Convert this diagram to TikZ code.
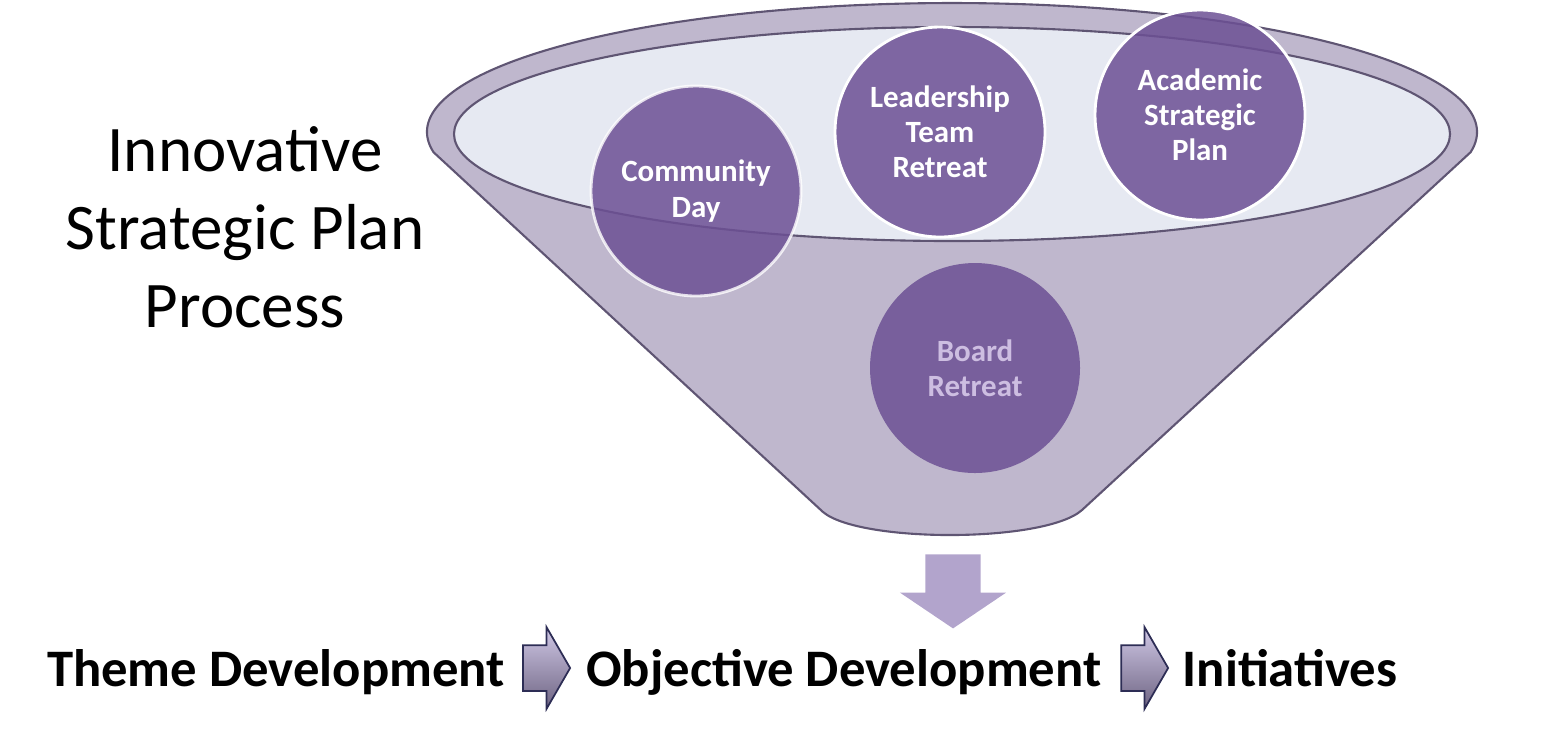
\documentclass[tikz,border=0pt]{standalone}
\usepackage{fontspec}
\setmainfont{Carlito}
\usetikzlibrary{shapes.arrows}

\definecolor{trichter}{RGB}{191,183,205}
\definecolor{rand}{RGB}{95,85,115}
\definecolor{innen}{RGB}{230,233,242}
\definecolor{kreisfarbe}{RGB}{108,80,148}
\definecolor{blass}{RGB}{205,190,225}
\definecolor{abwaerts}{RGB}{178,164,204}
\definecolor{pfeilhell}{RGB}{208,200,230}
\definecolor{pfeildunkel}{RGB}{110,100,130}
\definecolor{pfeilrand}{RGB}{45,45,85}

\begin{document}
\begin{tikzpicture}[x=0.1mm, y=-0.1mm,
    kreis/.style={circle, minimum size=21mm, fill=kreisfarbe, fill opacity=0.85, text opacity=1,
        text=white, align=center, font=\bfseries\fontsize{8.8}{10}\selectfont},
    schritt/.style={anchor=base, font=\bfseries\fontsize{15}{18}\selectfont},
    pfeil/.style={single arrow, draw=pfeilrand, line width=0.5pt, top color=pfeilhell, bottom color=pfeildunkel,
        inner xsep=0pt, inner ysep=2.2mm, minimum height=4.7mm, single arrow head extend=1.8mm, single arrow tip angle=120}]
    \useasboundingbox (0,0) rectangle (1544,746);

    % Trichter
    \filldraw[draw=rand, line width=0.6pt, fill=trichter] (433.5,152.2)
        arc[start angle=171, end angle=369, x radius=525, y radius=129]
        -- (1082,510) .. controls (1045,543) and (860,543) .. (823,512) -- cycle;
    \filldraw[draw=rand, line width=0.6pt, fill=innen] (952,134) ellipse[x radius=498, y radius=107];

    % Kreise
    \node[kreis, draw=white, draw opacity=0.8, line width=0.8pt] (gemeinde) at (696,191) {Community\\Day};
    \node[kreis, draw=white, line width=0.8pt] (leitung) at (940,132) {Leadership\\Team\\Retreat};
    \node[kreis, draw=white, line width=0.8pt] (akademie) at (1200,115) {Academic\\Strategic\\Plan};
    \node[kreis, text=blass] (vorstand) at (975,368) {Board\\Retreat};

    % Titel
    \node[align=center, font=\fontsize{18.5}{22.2}\selectfont] (titel) at (245,227) {Innovative\\Strategic Plan\\Process};

    % Pfeil nach unten
    \node[single arrow, shape border rotate=270, fill=abwaerts, inner sep=2.7mm, minimum height=7.1mm,
        single arrow head extend=2.55mm, single arrow tip angle=112] (runter) at (953,582) {};

    % Schritte
    \node[schritt] (thema) at (276,686) {Theme Development};
    \node[pfeil] (p1) at (540,668) {};
    \node[schritt] (ziel) at (844,686) {Objective Development};
    \node[pfeil] (p2) at (1138,668) {};
    \node[schritt] (init) at (1290,686) {Initiatives};
\end{tikzpicture}
\end{document}
